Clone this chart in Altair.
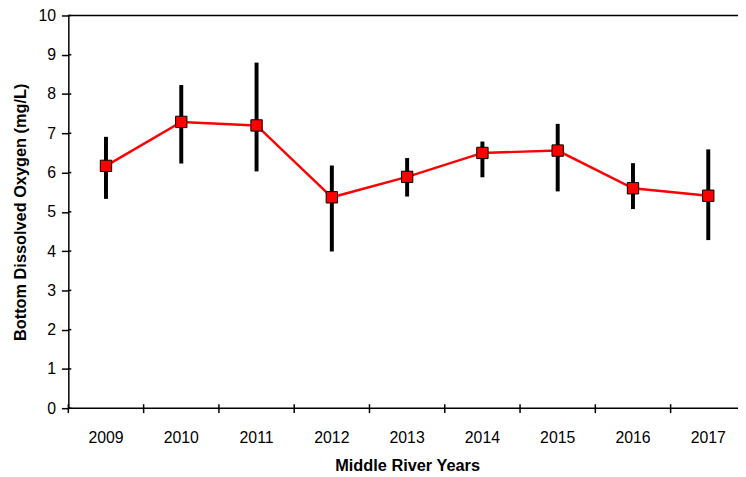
import altair as alt
import pandas as pd

years = ["2009", "2010", "2011", "2012", "2013", "2014", "2015", "2016", "2017"]
means = [6.17, 7.29, 7.20, 5.37, 5.89, 6.50, 6.56, 5.60, 5.41]
lows = [5.33, 6.23, 6.03, 3.99, 5.39, 5.88, 5.52, 5.07, 4.28]
highs = [6.91, 8.23, 8.80, 6.18, 6.37, 6.79, 7.24, 6.24, 6.59]
y_ticks = [0, 1, 2, 3, 4, 5, 6, 7, 8, 9, 10]
frame_lines = [0, 10]

df = pd.DataFrame({"year": years, "mean": means, "low": lows, "high": highs})
frame_df = pd.DataFrame({"v": frame_lines})
ytick_df = pd.DataFrame({"v": y_ticks})

FONT = "Liberation Sans"
W = 685
H = 397

x_scale = alt.Scale(paddingInner=0, paddingOuter=0)
x_axis = alt.Axis(
    title="Middle River Years",
    labelAngle=0,
    ticks=False,
    domain=False,
    labelPadding=22,
    titlePadding=12,
    labelOverlap=False,
)
x_enc = alt.X("year:N", sort=years, scale=x_scale, axis=x_axis)

y_scale = alt.Scale(domain=[0, 10], nice=False)
y_axis = alt.Axis(
    title="Bottom Dissolved Oxygen (mg/L)",
    values=y_ticks,
    tickCount=11,
    tickSize=7,
    labelPadding=6,
    titlePadding=10,
    grid=False,
    labelOverlap=False,
    labelFlush=False,
)

base = alt.Chart(df)

line = base.mark_line(color="#ff0000", strokeWidth=2.5).encode(
    x=x_enc, y=alt.Y("mean:Q", scale=y_scale, axis=y_axis)
)
err = base.mark_rule(color="#000000", strokeWidth=4).encode(
    x=x_enc, y=alt.Y("low:Q", scale=y_scale, axis=y_axis), y2="high:Q"
)
pts = base.mark_point(
    shape="square", filled=True, fill="#ff0000", stroke="#000000",
    strokeWidth=1, size=132, opacity=1
).encode(x=x_enc, y=alt.Y("mean:Q", scale=y_scale, axis=y_axis))

frame = alt.Chart(frame_df).mark_rule(color="#000000", strokeWidth=1.5).encode(
    y=alt.Y("v:Q", scale=y_scale, axis=y_axis), x=alt.value(0), x2=alt.value(W)
)

xticks = base.mark_rule(color="#000000", strokeWidth=1.5).encode(
    x=alt.X("year:N", sort=years, scale=x_scale, axis=x_axis, bandPosition=0),
    y=alt.value(H - 4),
    y2=alt.value(H + 5),
)

yticks_in = alt.Chart(ytick_df).mark_rule(color="#000000", strokeWidth=1.5).encode(
    y=alt.Y("v:Q", scale=y_scale, axis=y_axis), x=alt.value(0), x2=alt.value(3)
)

chart = (
    alt.layer(frame, xticks, yticks_in, line, err, pts)
    .properties(
        width=W,
        height=H,
        autosize=alt.AutoSizeParams(type="none"),
        padding={"left": 61, "top": 5, "right": -8, "bottom": 66},
        background="white",
    )
    .configure_view(stroke=None)
    .configure_axis(
        labelFont=FONT,
        titleFont=FONT,
        labelFontSize=16,
        titleFontSize=16.5,
        titleFontWeight="bold",
        labelColor="#000000",
        titleColor="#000000",
        domainColor="#000000",
        tickColor="#000000",
        domainWidth=1.5,
        tickWidth=1.5,
    )
)

chart.save("out.html", embed_options={"renderer": "svg", "actions": False})
